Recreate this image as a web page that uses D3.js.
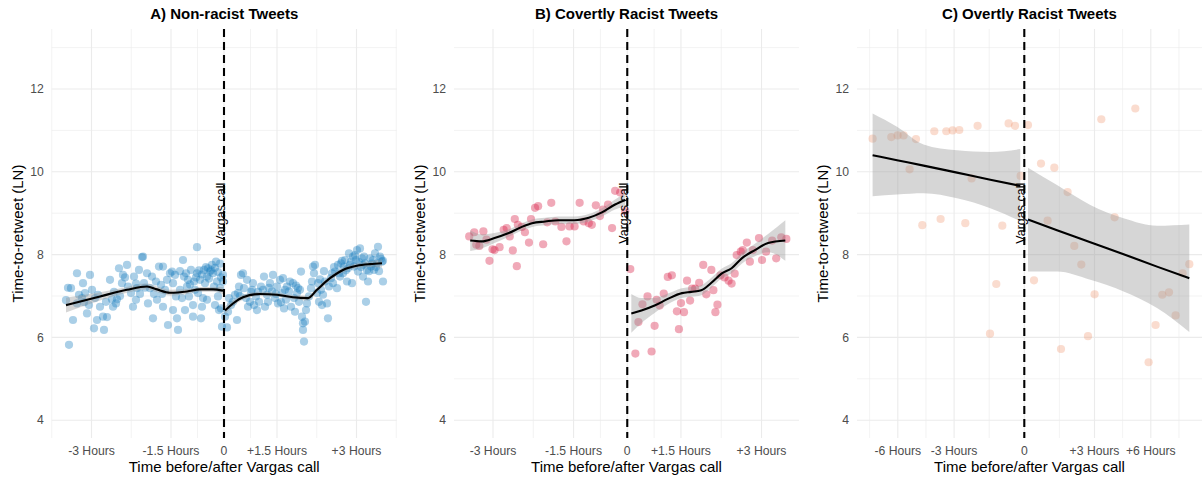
<!DOCTYPE html>
<html>
<head>
<meta charset="utf-8">
<script src="https://cdn.jsdelivr.net/npm/d3@7"></script>
<style>
  body { margin: 0; background: #fff; }
  svg { display: block; font-family: "Liberation Sans", Arial, sans-serif; }
</style>
</head>
<body>
<svg width="1202" height="479"></svg>
<script>
// y axis (log time-to-retweet), shared by the three facets
const yTicks = [4, 6, 8, 10, 12];
const yMinor = [5, 7, 9, 11, 13];

// x breaks (time index) and their labels
const ticksAB = [-132.5, -53, 0, 53, 132.5];
const labelsAB = ['-3 Hours', '-1.5 Hours', '0', '+1.5 Hours', '+3 Hours'];
const ticksC = [-126.5, -70.2, 0, 70.2, 126.5];
const labelsC = ['-6 Hours', '-3 Hours', '0', '+3 Hours', '+6 Hours'];

// A) non-racist tweets [time, ln ttr]
const nonRacistPts = [
  [-158,6.90],[-156,7.20],[-153,7.19],[-155,5.82],[-151,6.42],[-147,7.55],[-145,7.03],[-147,6.82],[-142,6.95],[-141,7.31],
  [-139,7.07],[-137,6.58],[-134,7.51],[-135,6.78],[-130,6.22],[-127,6.42],[-129,6.95],[-126,7.03],[-124,6.74],[-120,6.18],
  [-121,6.50],[-118,6.86],[-117,6.49],[-114,7.39],[-112,6.92],[-111,6.74],[-107,6.92],[-105,7.67],[-108,6.82],
  [-102,7.31],[-101,7.51],[-99,7.45],[-97,7.75],[-96,7.23],[-93,7.07],[-91,6.74],[-90,7.47],[-88,6.91],[-87,7.19],
  [-85,7.63],[-82,7.94],[-81,7.95],[-80,7.31],[-77,7.55],[-76,6.82],[-74,7.19],[-72,7.47],[-71,6.46],[-67,6.91],
  [-65,7.71],[-63,7.27],[-61,7.71],[-61,6.74],[-59,7.15],[-57,7.39],[-56,6.30],[-54,7.55],[-52,7.59],[-51,6.66],[-51,7.31],
  [-49,7.51],[-48,6.99],[-47,6.46],[-46,6.18],[-44,7.15],[-42,6.95],[-41,7.87],[-40,7.47],[-39,6.66],[-37,7.23],
  [-36,7.39],[-35,6.99],[-33,7.63],[-31,6.50],[-31,6.78],[-29,7.15],[-27,8.18],[-27,7.55],[-26,7.07],[-24,7.39],
  [-23,6.46],[-22,6.74],[-21,6.95],[-20,7.63],[-19,7.31],[-17,7.47],[-17,6.91],[-16,7.67],[-14,7.59],[-12,7.75],
  [-11,7.55],[-10,7.23],[-9,6.78],[-8,7.83],[-7,7.35],[-6,6.99],[-5,6.66],[-4,7.19],[-3,6.70],[-2,6.26],[-1,7.35],[-1,7.51],
  [-28,7.45],[-25,7.62],[-22,7.52],[-18,7.70],[-15,7.42],[-13,7.62],[-9,7.68],[-6,7.58],[-4,7.78],[-3,7.45],
  [-44,7.60],[-38,7.55],[-34,7.28],[-30,7.35],[-88,7.30],[-84,7.05],[-79,7.20],[-70,7.05],[-68,7.35],[-62,7.05],
  [-140,6.85],[-132,7.15],[-110,7.10],[-104,7.00],
  [1,6.50],[3,6.24],[4,6.62],[5,6.95],[7,6.78],[9,6.86],[11,7.03],[13,6.42],[14,7.07],[15,7.23],
  [17,7.51],[19,7.55],[20,7.19],[22,6.95],[23,7.39],[24,6.74],[26,6.86],[28,7.15],[29,7.31],[30,6.78],
  [32,6.99],[33,6.66],[35,6.86],[37,7.23],[39,7.15],[40,7.47],[41,6.74],[43,7.03],[44,6.86],[46,7.31],
  [48,7.11],[49,7.51],[51,6.95],[53,7.23],[54,6.82],[56,7.39],[58,7.07],[59,7.43],[60,6.70],[62,6.91],
  [63,7.23],[65,7.11],[67,6.74],[69,7.31],[70,6.95],[71,6.62],[73,7.07],[74,7.19],[75,6.86],[77,7.59],
  [78,6.50],[79,6.34],[79,6.18],[80,5.90],[81,6.38],[82,6.66],[83,6.82],[85,6.99],[87,7.19],
  [16,7.00],[27,7.10],[34,7.10],[45,7.20],[52,7.05],[57,6.85],[61,7.15],[66,7.35],[72,7.25],[76,7.15],
  [88,7.35],[89,7.71],[90,7.55],[91,7.75],[93,7.07],[94,7.31],[95,6.86],[97,7.15],[98,6.78],[99,7.03],
  [101,7.35],[103,6.82],[104,6.46],[105,7.23],[107,7.43],[108,7.55],[109,7.31],[111,7.59],[113,7.19],[114,7.75],
  [116,7.47],[117,7.79],[119,7.55],[120,7.71],[121,7.87],[123,7.35],[124,7.67],[125,8.03],[127,7.83],[128,7.31],
  [129,7.95],[130,7.71],[131,7.99],[132,7.87],[133,8.11],[134,7.59],[136,8.15],[138,7.91],[139,7.75],[139,7.47],
  [141,7.79],[142,6.86],[143,7.63],[144,7.35],[146,7.91],[147,7.71],[149,7.87],[150,7.63],[151,8.03],[153,7.79],
  [154,8.19],[156,7.95],[158,7.83],[159,7.35],[159,7.85],
  [96,7.40],[100,7.60],[110,7.70],[115,7.55],[118,7.85],[122,7.62],[126,7.75],[135,7.82],[137,7.70],[140,7.95],
  [145,7.60],[148,7.78],[152,7.70],[155,7.60],[157,7.90]
];
// loess fit [time, fit, half-width of band]
const nonRacistFitBefore = [
  [-158,6.78,0.18],[-124,6.99,0.10],[-97,7.15,0.07],[-77,7.23,0.07],[-67,7.16,0.07],[-54,7.08,0.07],
  [-37,7.11,0.06],[-24,7.16,0.06],[-11,7.16,0.06],[-1,7.13,0.09]
];
const nonRacistFitAfter = [
  [1,6.65,0.10],[9,6.82,0.07],[19,6.97,0.06],[36,7.05,0.05],[53,7.03,0.05],[69,6.97,0.05],[84,6.95,0.06],
  [93,7.15,0.06],[106,7.43,0.06],[119,7.63,0.06],[133,7.73,0.06],[146,7.77,0.07],[158,7.79,0.10]
];

// B) covertly racist tweets
const covertPts = [
  [-156,8.44],[-151,8.54],[-149,8.24],[-146,8.21],[-142,8.56],[-139,8.36],[-136,7.85],[-133,8.13],[-131,8.11],[-126,8.18],
  [-122,8.60],[-119,8.64],[-116,8.44],[-113,8.10],[-111,8.86],[-109,7.72],[-108,8.72],[-104,8.67],[-101,8.54],[-97,8.29],
  [-95,8.86],[-91,9.13],[-88,9.17],[-83,8.25],[-79,8.78],[-75,9.25],[-71,8.80],[-65,8.67],[-60,8.32],[-57,8.68],
  [-52,8.68],[-47,9.25],[-43,8.80],[-38,8.76],[-35,8.72],[-31,9.19],[-27,8.93],[-24,9.09],[-19,9.21],[-15,8.64],
  [-12,9.54],[-7,9.50],[-2,9.05],
  [3,7.65],[8,5.61],[11,6.37],[15,6.80],[20,6.99],[24,5.66],[27,6.28],[29,6.91],[32,6.77],[36,7.06],
  [40,7.46],[44,7.50],[49,6.63],[51,6.20],[53,6.83],[56,6.61],[59,7.37],[62,6.89],[64,7.18],[67,7.18],
  [71,7.32],[75,7.75],[78,7.04],[83,7.63],[85,7.14],[87,6.61],[89,6.79],[92,7.50],[96,7.45],[100,7.37],
  [103,7.30],[106,7.54],[108,7.99],[112,8.07],[114,8.11],[118,8.29],[121,7.83],[124,8.11],[130,8.40],[133,7.87],
  [137,8.07],[143,8.34],[147,7.91],[152,8.42],[157,8.38]
];
const covertFitBefore = [
  [-155,8.34,0.25],[-144,8.32,0.17],[-131,8.40,0.12],[-117,8.52,0.09],[-104,8.67,0.09],[-94,8.76,0.09],
  [-81,8.80,0.09],[-68,8.83,0.09],[-52,8.83,0.09],[-38,8.89,0.09],[-25,9.02,0.10],[-12,9.21,0.12],[-2,9.32,0.16]
];
const covertFitAfter = [
  [4,6.58,0.47],[14,6.65,0.30],[27,6.77,0.18],[40,6.93,0.13],[54,7.07,0.12],[63,7.10,0.12],[73,7.14,0.12],
  [83,7.32,0.12],[93,7.54,0.12],[103,7.67,0.12],[113,7.91,0.13],[126,8.11,0.15],[139,8.28,0.22],[156,8.34,0.49]
];

// C) overtly racist tweets
const overtPts = [
  [-151.7,10.80],[-133,10.84],[-126.7,10.88],[-120.7,10.88],[-114.7,10.06],[-108.3,10.79],[-102,8.71],[-90,10.98],
  [-83.7,8.86],[-78,10.98],[-71.7,11.00],[-65,11.01],[-59,8.76],[-52.7,9.84],[-46.7,11.11],[-34.3,6.09],[-28,7.29],
  [-22,8.70],[-15.7,11.17],[-9.3,11.11],[-3.7,9.90],
  [3.7,11.13],[9.7,7.38],[16.7,10.20],[23.3,8.82],[30,10.10],[36.7,5.72],[43.3,9.51],[50,8.21],[57,7.76],
  [63.7,6.03],[70.3,7.04],[77,11.27],[90.3,8.90],[111,11.53],[124.3,5.40],[131.3,6.30],[138,7.03],[144.7,7.09],
  [151.3,6.53],[158.3,7.55],[165,7.77]
];
// linear fit [time, fit, lower, upper]
const overtFitBefore = [
  [-151.7,10.40,9.41,11.41],[-127.3,10.28,9.45,11.09],[-100.7,10.15,9.48,10.66],
  [-67.3,9.98,9.36,10.52],[-34,9.81,9.12,10.48],[-4,9.66,8.81,10.55]
];
const overtFitAfter = [
  [3.7,8.85,7.59,10.10],[32.7,8.59,7.59,9.68],[66,8.30,7.39,9.20],
  [99.3,8.01,7.11,8.88],[132.7,7.71,6.71,8.70],[165,7.43,6.13,8.73]
];

const panels = [
  { title: 'A) Non-racist Tweets', left: 51.7, domain: [-172.3, 172.7], ticks: ticksAB, labels: labelsAB,
    pts: nonRacistPts, colour: '#1f80c0', alpha: 0.38, fits: [nonRacistFitBefore, nonRacistFitAfter] },
  { title: 'B) Covertly Racist Tweets', left: 454, domain: [-171, 169.5], ticks: ticksAB, labels: labelsAB,
    pts: covertPts, colour: '#d81e44', alpha: 0.38, fits: [covertFitBefore, covertFitAfter] },
  { title: 'C) Overtly Racist Tweets', left: 857, domain: [-167.3, 177.7], ticks: ticksC, labels: labelsC,
    pts: overtPts, colour: '#f08a60', alpha: 0.3, fits: [overtFitBefore, overtFitAfter] }
];

const svg = d3.select('svg');
const panelTop = 29, panelBottom = 438, panelWidth = 345;
const y = d3.scaleLinear().domain([3.57, 13.45]).range([panelBottom, panelTop]);
const gridCol = '#ebebeb';

panels.forEach(function(p) {
  const g = svg.append('g');
  const x = d3.scaleLinear().domain(p.domain).range([p.left, p.left + panelWidth]);
  const t = p.ticks, n = t.length;

  // minor breaks sit halfway between major ones
  let xMinor = [t[0] - (t[1] - t[0]) / 2];
  for (let i = 0; i < n - 1; i++) xMinor.push((t[i] + t[i + 1]) / 2);
  xMinor.push(t[n - 1] + (t[n - 1] - t[n - 2]) / 2);
  xMinor = xMinor.filter(v => v >= p.domain[0] - 0.5 && v <= p.domain[1] + 0.5);

  g.selectAll('.hminor').data(yMinor).enter().append('line')
    .attr('x1', p.left).attr('x2', p.left + panelWidth)
    .attr('y1', d => y(d)).attr('y2', d => y(d))
    .attr('stroke', gridCol).attr('stroke-width', 0.6);
  g.selectAll('.vminor').data(xMinor).enter().append('line')
    .attr('x1', d => x(d)).attr('x2', d => x(d))
    .attr('y1', panelTop).attr('y2', panelBottom)
    .attr('stroke', gridCol).attr('stroke-width', 0.6);
  g.selectAll('.hmajor').data(yTicks).enter().append('line')
    .attr('x1', p.left).attr('x2', p.left + panelWidth)
    .attr('y1', d => y(d)).attr('y2', d => y(d))
    .attr('stroke', gridCol).attr('stroke-width', 1.1);
  g.selectAll('.vmajor').data(t).enter().append('line')
    .attr('x1', d => x(d)).attr('x2', d => x(d))
    .attr('y1', panelTop).attr('y2', panelBottom)
    .attr('stroke', gridCol).attr('stroke-width', 1.1);

  // points
  g.selectAll('circle').data(p.pts).enter().append('circle')
    .attr('cx', d => x(d[0])).attr('cy', d => y(d[1]))
    .attr('r', 4.1)
    .attr('fill', p.colour).attr('fill-opacity', p.alpha);

  // smooths with confidence bands
  p.fits.forEach(function(f) {
    const lo = d => d.length > 3 ? d[2] : d[1] - d[2];
    const hi = d => d.length > 3 ? d[3] : d[1] + d[2];
    g.append('path').datum(f)
      .attr('d', d3.area().x(d => x(d[0])).y0(d => y(lo(d))).y1(d => y(hi(d))).curve(d3.curveMonotoneX))
      .attr('fill', '#999999').attr('fill-opacity', 0.4);
    g.append('path').datum(f)
      .attr('d', d3.line().x(d => x(d[0])).y(d => y(d[1])).curve(d3.curveMonotoneX))
      .attr('fill', 'none').attr('stroke', '#000').attr('stroke-width', 2.1);
  });

  // event line
  g.append('line')
    .attr('x1', x(0)).attr('x2', x(0))
    .attr('y1', panelTop).attr('y2', panelBottom)
    .attr('stroke', '#000').attr('stroke-width', 2.1)
    .attr('stroke-dasharray', '8,5');
  g.append('text')
    .attr('transform', 'translate(' + x(0) + ',' + y(9) + ') rotate(-90)')
    .attr('text-anchor', 'middle').attr('dy', '0.05em')
    .attr('font-size', '12.5px').attr('fill', '#000')
    .text('Vargas call');

  // axis labels
  g.selectAll('.ytl').data(yTicks).enter().append('text')
    .attr('x', p.left - 8).attr('y', d => y(d)).attr('dy', '0.35em')
    .attr('text-anchor', 'end').attr('font-size', '12.2px').attr('fill', '#4d4d4d')
    .text(d => d);
  g.selectAll('.xtl').data(t).enter().append('text')
    .attr('x', d => x(d)).attr('y', 451).attr('dy', '0.35em')
    .attr('text-anchor', 'middle').attr('font-size', '12.2px').attr('fill', '#4d4d4d')
    .text((d, i) => p.labels[i]);

  g.append('text')
    .attr('x', p.left + panelWidth / 2).attr('y', 467).attr('dy', '0.35em')
    .attr('text-anchor', 'middle').attr('font-size', '15px').attr('fill', '#000')
    .text('Time before/after Vargas call');
  g.append('text')
    .attr('transform', 'translate(' + (p.left - 34) + ',' + ((panelTop + panelBottom) / 2) + ') rotate(-90)')
    .attr('dy', '0.35em')
    .attr('text-anchor', 'middle').attr('font-size', '15px').attr('fill', '#000')
    .text('Time-to-retweet (LN)');
  g.append('text')
    .attr('x', p.left + panelWidth / 2).attr('y', 13.5).attr('dy', '0.35em')
    .attr('text-anchor', 'middle').attr('font-size', '15px').attr('font-weight', 'bold').attr('fill', '#000')
    .text(p.title);
});
</script>
</body>
</html>
